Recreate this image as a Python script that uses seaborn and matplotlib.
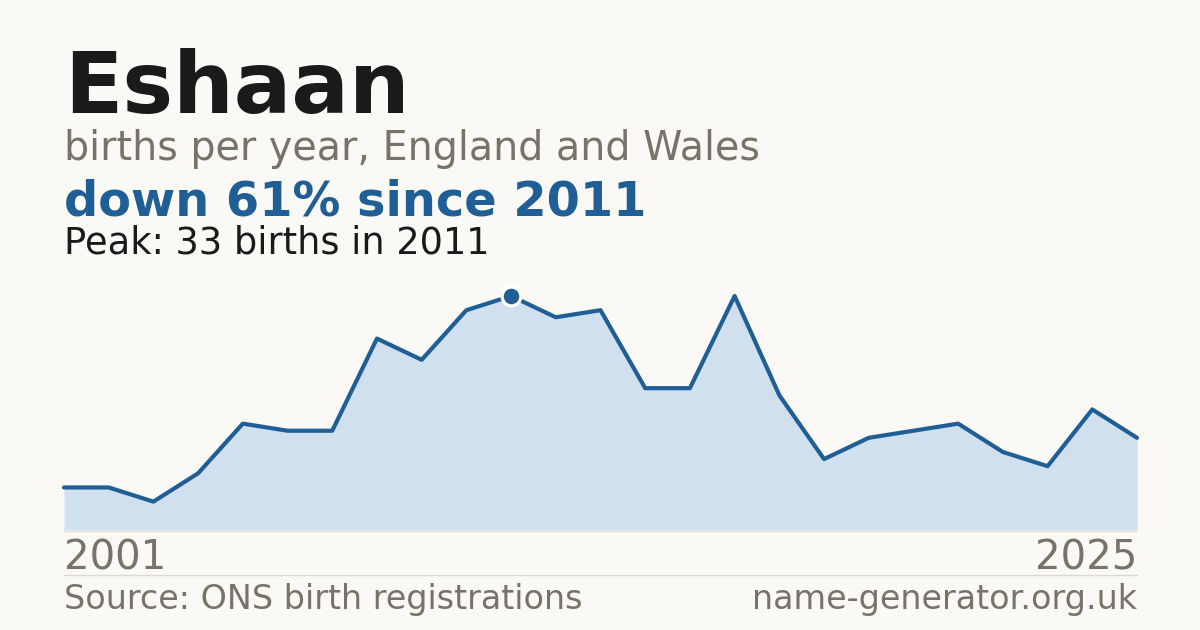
import matplotlib
matplotlib.use('Agg')
import numpy as np
import pandas as pd
import matplotlib.pyplot as plt
import seaborn as sns

# data
years = list(range(2001, 2026))
births = [6, 6, 4, 8, 15, 14, 14, 27, 24, 31, 33, 30, 31, 20, 20, 33, 19, 10, 13, 14, 15, 11, 9, 17, 13]
peak_year = 2011
peak_value = 33

# colours
bg = '#faf9f5'
line_col = '#1f5f96'
fill_col = '#d0e0ef'
grey = '#77736b'
dark = '#1a1a1a'

sns.set_theme(style='white')
plt.rcParams['font.family'] = ['DejaVu Sans']

df = pd.DataFrame({'year': years, 'births': births})

W, H = 1200, 630
fig = plt.figure(figsize=(12, 6.3), dpi=100, facecolor=bg)

def px(x, y):
    return x / W, 1 - y / H

# plot area: 2001 at x=64, 2025 at x=1137, zero at y=530, peak at y=296
left, right = 64, 1137
bottom, top = 530, 296
ax = fig.add_axes([left / W, 1 - bottom / H, (right - left) / W, (bottom - top) / H])
ax.set_facecolor(bg)
ax.patch.set_alpha(0)

ax.fill_between(df['year'], df['births'], 0, color=fill_col, linewidth=0)
sns.lineplot(data=df, x='year', y='births', ax=ax, color=line_col, linewidth=3, clip_on=False)
ax.plot([peak_year], [peak_value], marker='o', markersize=13.5, markerfacecolor=line_col,
        markeredgecolor='white', markeredgewidth=2.3, clip_on=False, zorder=5)

ax.set_xlim(years[0], years[-1])
ax.set_ylim(0, peak_value)
ax.axis('off')

# baseline under the area
fig.add_artist(plt.Line2D([left / W, right / W], [1 - 530.5 / H] * 2, color='#e9e1d6', lw=1))
# separator above the footer
fig.add_artist(plt.Line2D([left / W, right / W], [1 - 574.5 / H] * 2, color='#dcd9d2', lw=1))

# header texts
fig.text(*px(64, 113), 'Eshaan', fontsize=61.5, fontweight='bold', color=dark, va='baseline', ha='left')
fig.text(*px(64, 160), 'births per year, England and Wales', fontsize=28.5, color=grey, va='baseline', ha='left')
fig.text(*px(64, 215), 'down 61% since 2011', fontsize=34.5, fontweight='bold', color=line_col, va='baseline', ha='left')
fig.text(*px(64, 253), 'Peak: 33 births in 2011', fontsize=26.5, color=dark, va='baseline', ha='left')

# year labels
fig.text(*px(64, 570), str(years[0]), fontsize=29, color=grey, va='baseline', ha='left')
fig.text(*px(1137, 570), str(years[-1]), fontsize=29, color=grey, va='baseline', ha='right')

# footer
fig.text(*px(64, 609), 'Source: ONS birth registrations', fontsize=24, color=grey, va='baseline', ha='left')
fig.text(*px(1137, 609), 'name-generator.org.uk', fontsize=24, color=grey, va='baseline', ha='right')

fig.savefig('out.png', dpi=100, facecolor=bg)
